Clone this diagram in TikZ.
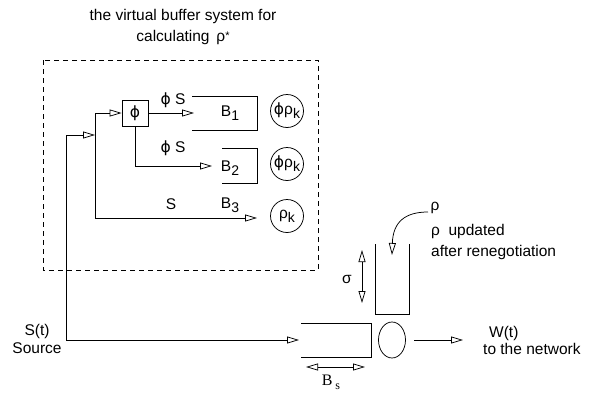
\documentclass[tikz,border=0pt]{standalone}
\usepackage{fontspec}
\setmainfont{Liberation Sans}
\newfontfamily\dv{DejaVu Sans}
\newfontfamily\tms{Liberation Serif}
\usetikzlibrary{arrows.meta,shapes.geometric}
\newcommand{\vphi}{{\dv ϕ}}
\newcommand{\lowsub}[1]{\raisebox{-0.5ex}{\fontsize{14}{14}\selectfont #1}}
\begin{document}
\begin{tikzpicture}[x=1pt,y=-1pt,
  every node/.style={font=\fontsize{15.5}{18}\selectfont, inner sep=0pt},
  conn/.style={line width=0.75pt},
  arr/.style={conn, -{Triangle[open,length=12pt,width=7pt]}},
  darr/.style={conn, {Triangle[open,length=12pt,width=7pt]}-{Triangle[open,length=12pt,width=7pt]}},
  rate/.style={draw, circle, line width=0.75pt, minimum size=33pt, inner sep=0pt}]
\useasboundingbox (0,0) rectangle (590,394);
% title
\node[align=center] (title) at (183,27) {the virtual buffer system for\\[3pt]calculating \,ρ\raisebox{0.3ex}{\fontsize{11}{11}\selectfont *}};
% dashed box
\draw[line width=0.75pt, dash pattern=on 5pt off 4pt] (43,60) rectangle (318,270);
% phi box
\node[draw, line width=0.75pt, minimum size=26pt] (phi) at (135,113) {\vphi};
% coordinates
\coordinate (src) at (66,340);
\coordinate (split) at (95,135);
\coordinate (splitbot) at (95,218);
\coordinate (b1in) at (194,113);
\coordinate (b2in) at (212,166);
\coordinate (b3in) at (257,218);
\coordinate (bsin) at (299,340);
% connectors
\draw[arr] (src) |- (split);
\draw[arr] (src) -- (bsin);
\draw[arr] (splitbot) |- (phi.west);
\draw[arr] (splitbot) -- (b3in);
\draw[arr] (phi.east) -- (b1in);
\draw[arr] (phi.south) |- (b2in);
% buffers
\draw[conn] (192,96) -- (257,96) -- (257,130) -- (192,130);
\draw[conn] (222,148) -- (257,148) -- (257,183) -- (222,183);
% labels
\node (l1) at (173,100) {\vphi\ S};
\node (l2) at (173,148) {\vphi\ S};
\node (l3) at (171,204) {S};
\node (B1) at (230,113) {B\lowsub{1}};
\node (B2) at (230,168) {B\lowsub{2}};
\node (B3) at (230,205) {B\lowsub{3}};
% rate circles
\node[rate] (c1) at (287,111) {\vphi ρ\lowsub{k}};
\node[rate] (c2) at (287,164) {\vphi ρ\lowsub{k}};
\node[rate] (c3) at (287,216) {ρ\lowsub{k}};
% source label
\node[align=center] (source) at (37,339) {S(t)\\Source};
% shaping buffer
\draw[conn] (301,323) -- (371,323) -- (371,357) -- (301,357);
\coordinate (bsl) at (306,367);
\coordinate (bsr) at (365,367);
\draw[darr] (bsl) -- (bsr);
\node (Bs) at (331,382) {\tms\fontsize{16}{16}\selectfont B\,\raisebox{-0.5ex}{\fontsize{12}{12}\selectfont s}};
% server
\node[draw, ellipse, line width=0.75pt, minimum width=27pt, minimum height=36pt] (srv) at (392,340) {};
\coordinate (outs) at (414,340);
\coordinate (oute) at (463,340);
\draw[arr] (outs) -- (oute);
\node[anchor=west] (W) at (489,333) {W(t)};
\node[anchor=west] (net) at (483,349) {to the network};
% token bucket
\draw[conn] (375,244) -- (375,314) -- (409,314) -- (409,244);
\coordinate (st) at (362,250);
\coordinate (sb) at (362,303);
\draw[darr] (st) -- (sb);
\node (sigma) at (347,279) {σ};
% rho arrow
\node (rho) at (435,208) {ρ};
\coordinate (rhos) at (428,212);
\coordinate (rhot) at (392,255);
\draw[arr] (rhos) .. controls (405,212) and (393,222) .. (rhot);
\node[anchor=west] (upd) at (431,231) {ρ\ \ updated};
\node[anchor=west] (after) at (431,252) {after renegotiation};
\end{tikzpicture}
\end{document}
